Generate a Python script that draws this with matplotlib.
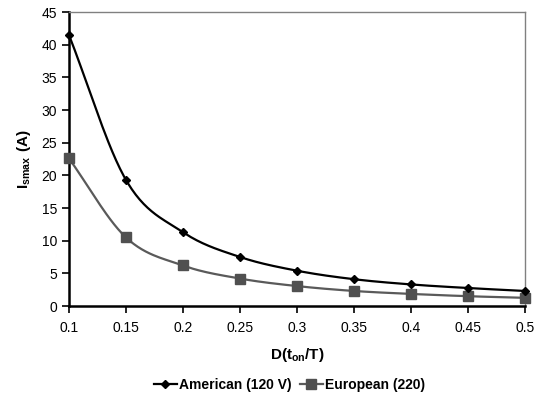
import numpy as np
import matplotlib
matplotlib.use("Agg")
import matplotlib.pyplot as plt
from matplotlib.lines import Line2D

plt.rcParams['font.family'] = ['Liberation Sans', 'DejaVu Sans']
plt.rcParams['mathtext.fontset'] = 'custom'
plt.rcParams['mathtext.rm'] = 'Liberation Sans'
plt.rcParams['mathtext.bf'] = 'Liberation Sans:bold'

# duty cycle values and peak currents
duty = [0.1, 0.15, 0.2, 0.25, 0.3, 0.35, 0.4, 0.45, 0.5]
american = [41.5, 19.3, 11.3, 7.5, 5.4, 4.1, 3.3, 2.75, 2.3]
european = [22.6, 10.5, 6.2, 4.2, 3.05, 2.3, 1.85, 1.5, 1.25]
xticks = [0.1, 0.15, 0.2, 0.25, 0.3, 0.35, 0.4, 0.45, 0.5]
yticks = [0, 5, 10, 15, 20, 25, 30, 35, 40, 45]


def smooth(x, y, n=30):
    # Catmull-Rom style curve through the points (like excel smoothed lines)
    x = np.asarray(x, float)
    y = np.asarray(y, float)
    px = np.concatenate([[2 * x[0] - x[1]], x, [2 * x[-1] - x[-2]]])
    py = np.concatenate([[2 * y[0] - y[1]], y, [2 * y[-1] - y[-2]]])
    xs, ys = [], []
    t = np.linspace(0, 1, n)
    for i in range(1, len(px) - 2):
        p0x, p1x, p2x, p3x = px[i - 1:i + 3]
        p0y, p1y, p2y, p3y = py[i - 1:i + 3]
        c1x, c1y = p1x + (p2x - p0x) / 6, p1y + (p2y - p0y) / 6
        c2x, c2y = p2x - (p3x - p1x) / 6, p2y - (p3y - p1y) / 6
        bx = (1 - t)**3 * p1x + 3 * (1 - t)**2 * t * c1x + 3 * (1 - t) * t**2 * c2x + t**3 * p2x
        by = (1 - t)**3 * p1y + 3 * (1 - t)**2 * t * c1y + 3 * (1 - t) * t**2 * c2y + t**3 * p2y
        xs.extend(bx)
        ys.extend(by)
    return xs, ys


fig = plt.figure(figsize=(5.47, 4.0), dpi=100)
ax = fig.add_axes([0.126, 0.235, 0.834, 0.735])

sx, sy = smooth(duty, american)
ax.plot(sx, sy, color='black', lw=1.6, zorder=3)
ax.plot(duty, american, ls='none', marker='D', ms=4.5, color='black', zorder=5, clip_on=False)

sx, sy = smooth(duty, european)
ax.plot(sx, sy, color='#5a5a5a', lw=1.6, zorder=2)
ax.plot(duty, european, ls='none', marker='s', ms=7, color='#505050', zorder=4, clip_on=False)

ax.set_xlim(0.1, 0.5)
ax.set_ylim(0, 45)
ax.set_xticks(xticks)
ax.set_xticklabels([f'{v:g}' for v in xticks])
ax.set_yticks(yticks)
ax.tick_params(labelsize=10, direction='out', length=5, width=1.2, colors='black')
ax.tick_params(axis='x', pad=6)

for s in ['left', 'bottom']:
    ax.spines[s].set_linewidth(1.8)
    ax.spines[s].set_color('black')
for s in ['top', 'right']:
    ax.spines[s].set_linewidth(1.0)
    ax.spines[s].set_color('#808080')

ax.set_xlabel(r'$\mathbf{D(t_{on}/T)}$', fontsize=11, labelpad=8)
ax.set_ylabel(r'$\mathbf{I_{smax}\ (A)}$', fontsize=11, labelpad=6)

handles = [
    Line2D([], [], color='black', lw=1.6, marker='D', ms=4.5),
    Line2D([], [], color='#5a5a5a', lw=1.6, marker='s', ms=7, mfc='#505050', mec='#505050'),
]
fig.legend(handles, ['American (120 V)', 'European (220)'], loc='center',
           bbox_to_anchor=(0.53, 0.037), ncol=2, frameon=False,
           prop={'weight': 'bold', 'size': 10}, handlelength=1.6,
           handletextpad=0.2, columnspacing=0.6)

fig.savefig('out.png', dpi=100)
